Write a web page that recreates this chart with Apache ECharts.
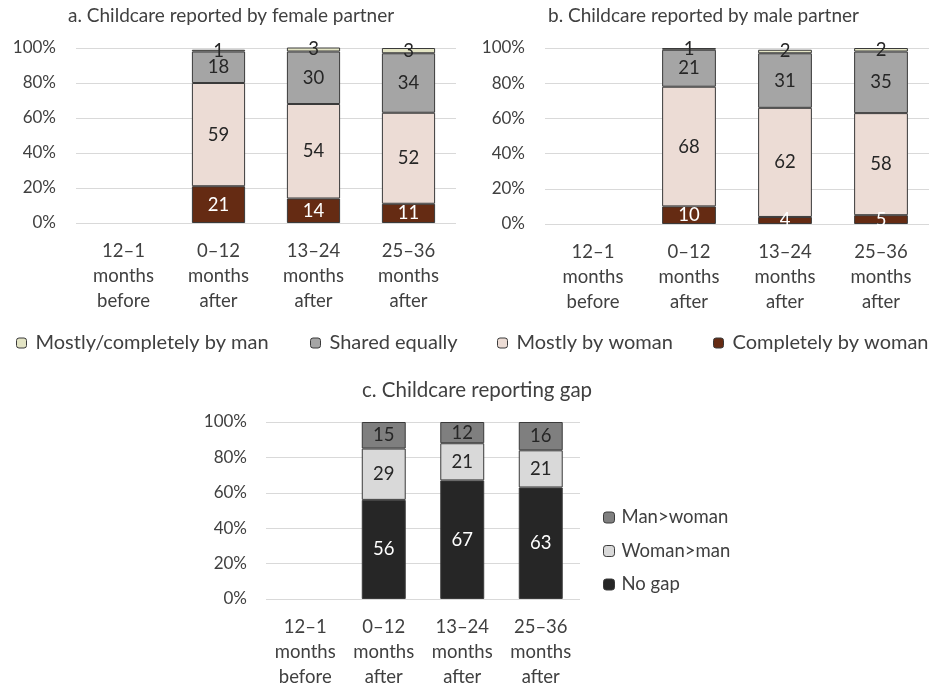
<!DOCTYPE html>
<html>
<head>
<meta charset="utf-8">
<script src="https://cdn.jsdelivr.net/npm/echarts@6/dist/echarts.min.js"></script>
<style>
  html, body { margin: 0; padding: 0; background: #fff; }
  #main { width: 933px; height: 690px; }
</style>
</head>
<body>
<div id="main"></div>
<script>
const categories = ['12–1\nmonths\nbefore', '0–12\nmonths\nafter', '13–24\nmonths\nafter', '25–36\nmonths\nafter'];
const yTicks = [0, 20, 40, 60, 80, 100];

// a. reported by female partner
const femaleCompletelyWoman = [null, 21, 14, 11];
const femaleMostlyWoman = [null, 59, 54, 52];
const femaleShared = [null, 18, 30, 34];
const femaleMan = [null, 1, 3, 3];

// b. reported by male partner
const maleCompletelyWoman = [null, 10, 4, 5];
const maleMostlyWoman = [null, 68, 62, 58];
const maleShared = [null, 21, 31, 35];
const maleMan = [null, 1, 2, 2];

// c. reporting gap
const noGap = [null, 56, 67, 63];
const womanGtMan = [null, 29, 21, 21];
const manGtWoman = [null, 15, 12, 16];

const FONT = 'Lato';
const TXT = '#404040';

const colors = {
  'Completely by woman': '#652b13',
  'Mostly by woman': '#ecdcd5',
  'Shared equally': '#a5a5a5',
  'Mostly/completely by man': '#e3e4c4',
  'No gap': '#262626',
  'Woman>man': '#d9d9d9',
  'Man>woman': '#7f7f7f'
};
const whiteLabel = ['Completely by woman', 'No gap'];

function bar(name, data, idx, stack) {
  return {
    name: name,
    type: 'bar',
    stack: stack,
    xAxisIndex: idx,
    yAxisIndex: idx,
    barWidth: '56%',
    data: data,
    itemStyle: { color: colors[name], borderColor: '#3a3a3a', borderWidth: 1 },
    label: {
      show: true,
      position: 'inside',
      fontFamily: FONT,
      fontSize: 18.5,
      color: whiteLabel.includes(name) ? '#ffffff' : '#262626'
    }
  };
}

function yAxis(idx, margin) {
  return {
    type: 'value',
    gridIndex: idx,
    min: yTicks[0],
    max: yTicks[yTicks.length - 1],
    interval: 20,
    axisLabel: { formatter: '{value}%', fontFamily: FONT, fontSize: 17, color: TXT, margin: margin },
    splitLine: { lineStyle: { color: '#d9d9d9' } },
    axisLine: { show: false },
    axisTick: { show: false }
  };
}

function xAxis(idx) {
  return {
    type: 'category',
    gridIndex: idx,
    data: categories,
    axisLine: { show: false },
    axisTick: { show: false },
    axisLabel: { fontFamily: FONT, fontSize: 18.5, color: TXT, lineHeight: 25, margin: 16, interval: 0 }
  };
}

function topLegend(name, left) {
  return {
    data: [name],
    left: left, top: 328,
    itemWidth: 10, itemHeight: 10,
    selectedMode: false,
    itemStyle: { borderColor: '#3a3a3a', borderWidth: 1 },
    textStyle: { fontFamily: FONT, fontSize: 20, color: TXT, padding: [0, 0, 0, 4] }
  };
}

const titleStyle = { fontFamily: FONT, fontSize: 19, fontWeight: 'normal', color: TXT };

const myChart = echarts.init(document.getElementById('main'));

const option = {
  animation: false,
  title: [
    { text: 'a. Childcare reported by female partner', left: 63, top: 1, textStyle: titleStyle },
    { text: 'b. Childcare reported by male partner', left: 543, top: 1, textStyle: titleStyle },
    { text: 'c. Childcare reporting gap', left: 357, top: 375, textStyle: Object.assign({}, titleStyle, { fontSize: 20.5 }) }
  ],
  legend: [
    topLegend('Mostly/completely by man', 11),
    topLegend('Shared equally', 305),
    topLegend('Mostly by woman', 492),
    topLegend('Completely by woman', 708),
    {
      data: ['Man>woman', 'Woman>man', 'No gap'],
      orient: 'vertical',
      left: 598, top: 503,
      itemWidth: 11, itemHeight: 11, itemGap: 14.5,
      selectedMode: false,
      itemStyle: { borderColor: '#3a3a3a', borderWidth: 1 },
      textStyle: { fontFamily: FONT, fontSize: 18.5, color: TXT, padding: [0, 0, 0, 2] }
    }
  ],
  grid: [
    { left: 76, top: 48, width: 380, height: 175 },
    { left: 545, top: 48, width: 384, height: 176 },
    { left: 266, top: 422, width: 314, height: 178 }
  ],
  xAxis: [xAxis(0), xAxis(1), xAxis(2)],
  yAxis: [yAxis(0, 20), yAxis(1, 20), yAxis(2, 19)],
  series: [
    bar('Completely by woman', femaleCompletelyWoman, 0, 'a'),
    bar('Mostly by woman', femaleMostlyWoman, 0, 'a'),
    bar('Shared equally', femaleShared, 0, 'a'),
    bar('Mostly/completely by man', femaleMan, 0, 'a'),
    bar('Completely by woman', maleCompletelyWoman, 1, 'b'),
    bar('Mostly by woman', maleMostlyWoman, 1, 'b'),
    bar('Shared equally', maleShared, 1, 'b'),
    bar('Mostly/completely by man', maleMan, 1, 'b'),
    bar('No gap', noGap, 2, 'c'),
    bar('Woman>man', womanGtMan, 2, 'c'),
    bar('Man>woman', manGtWoman, 2, 'c')
  ]
};

myChart.setOption(option);
</script>
</body>
</html>
